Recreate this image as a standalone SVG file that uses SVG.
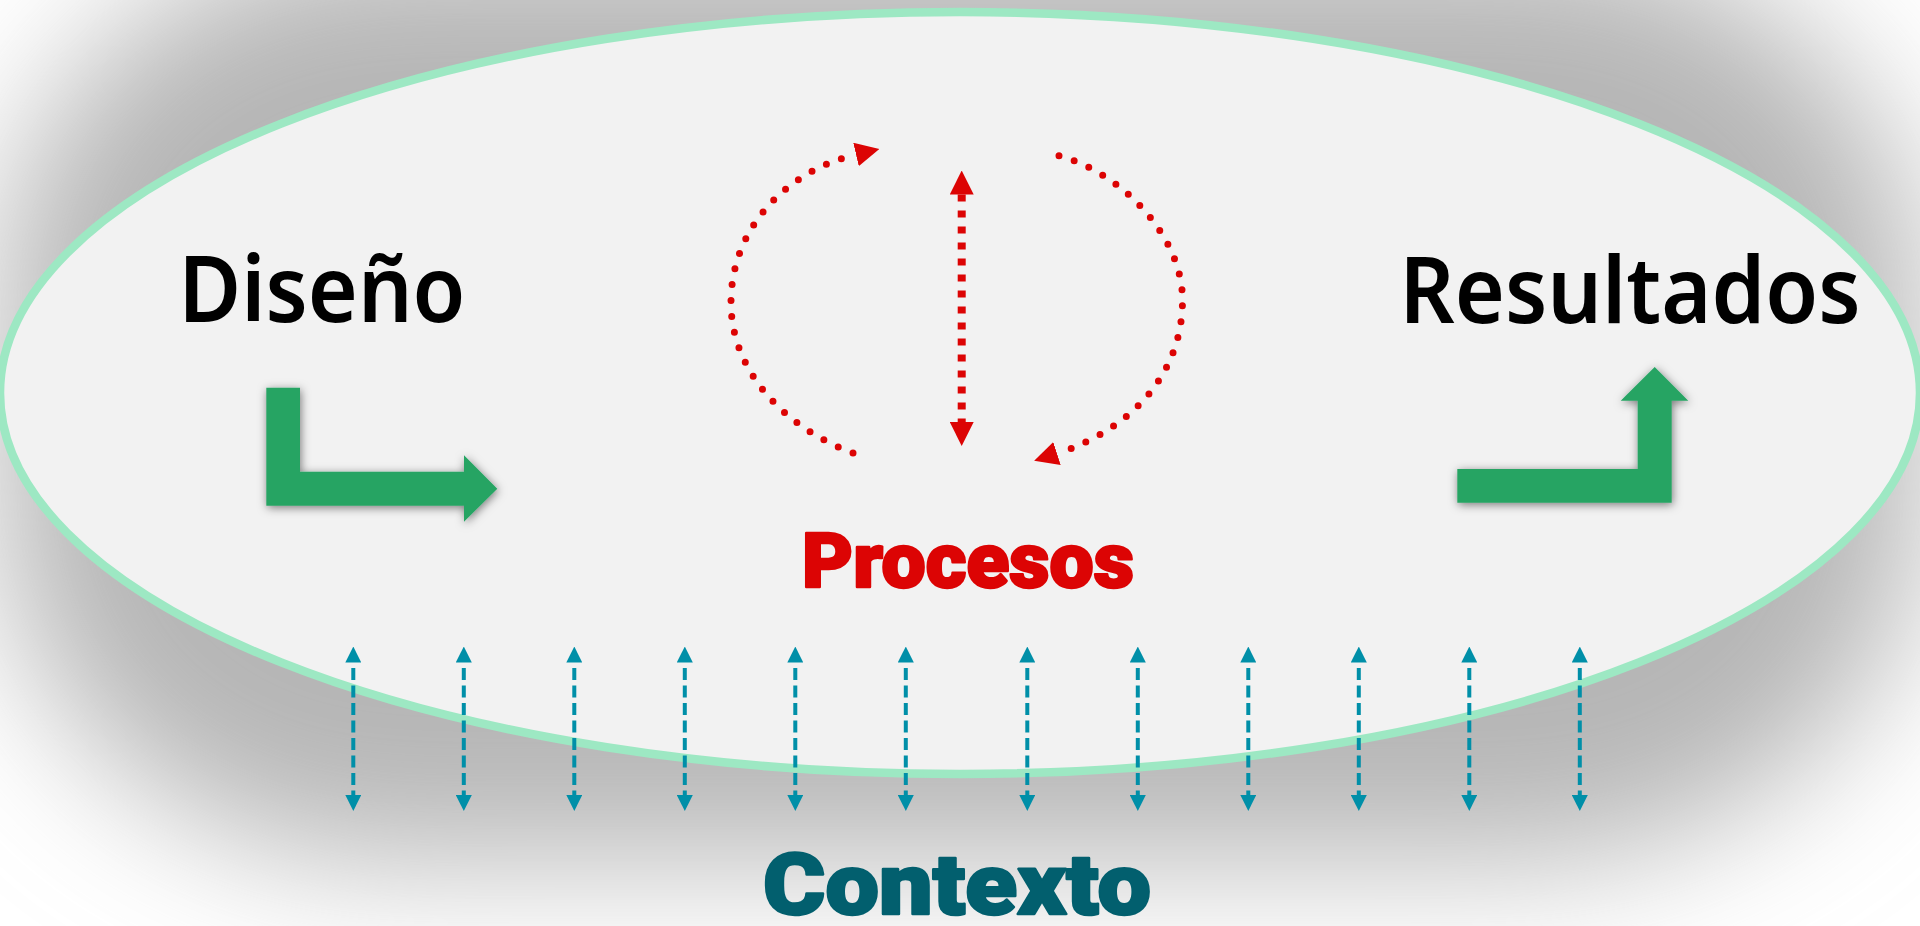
<svg xmlns="http://www.w3.org/2000/svg" width="1920" height="926" viewBox="0 0 1920 926">
  <defs>
    <filter id="bgShadow" x="-20%" y="-30%" width="140%" height="160%">
      <feGaussianBlur stdDeviation="70"/>
    </filter>
    <filter id="arrowShadow" x="-30%" y="-30%" width="160%" height="160%">
      <feDropShadow dx="1" dy="2" stdDeviation="5" flood-color="#000" flood-opacity="0.5"/>
    </filter>
    <marker id="redHead" viewBox="0 0 24 24" markerWidth="24" markerHeight="24" refX="0" refY="12" orient="auto-start-reverse" markerUnits="userSpaceOnUse">
      <path d="M0,0 L24,12 L0,24 Z" fill="#dc0404"/>
    </marker>
    <marker id="blueHead" viewBox="0 0 16 16" markerWidth="16" markerHeight="16" refX="0" refY="8" orient="auto-start-reverse" markerUnits="userSpaceOnUse">
      <path d="M0,0 L16,8 L0,16 Z" fill="#008fa8"/>
    </marker>
    <style>
      .title { font-family: "Noto Sans", "Open Sans", "Liberation Sans", sans-serif; font-weight: 600; font-size: 92px; fill: #000; text-anchor: middle; }
      .heavy { font-family: Roboto, "Liberation Sans", sans-serif; font-weight: 900; text-anchor: middle; stroke-linejoin: round; paint-order: stroke; }
      .green { fill: #27a464; filter: url(#arrowShadow); }
      .dotted { fill: none; stroke: #dc0404; stroke-width: 7; stroke-linecap: round; stroke-dasharray: 0 16; }
      .redDash { fill: none; stroke: #dc0404; stroke-width: 8; stroke-dasharray: 7 9; }
      .blueDash { fill: none; stroke: #008fa8; stroke-width: 4; stroke-dasharray: 12 5.5; stroke-dashoffset: 12; marker-start: url(#blueHead); marker-end: url(#blueHead); }
    </style>
  </defs>

  <rect width="1920" height="926" fill="#ffffff"/>
  <rect x="0" y="-60" width="1920" height="920" rx="400" ry="350" fill="#b6b6b6" filter="url(#bgShadow)"/>

  <g id="context-ellipse">
    <ellipse cx="960" cy="393" rx="960" ry="381" fill="#f2f2f2" stroke="#9de8c3" stroke-width="8.5"/>
  </g>

  <g id="diseno">
    <text class="title" x="322" y="322" textLength="287" lengthAdjust="spacingAndGlyphs">Diseño</text>
    <polygon class="green" points="266.3,387.7 300,387.7 300,471.7 464,471.7 464,455.3 497.3,488.7 464,521.7 464,505.7 266.3,505.7"/>
  </g>

  <g id="resultados">
    <text class="title" x="1630" y="322.5" textLength="461" lengthAdjust="spacingAndGlyphs">Resultados</text>
    <polygon class="green" points="1457.3,469 1637.7,469 1637.7,400.7 1620.7,400.7 1654.7,367 1688.3,400.7 1671.7,400.7 1671.7,502.7 1457.3,502.7"/>
  </g>

  <g id="procesos">
    <text class="heavy" x="968" y="587" font-size="76" fill="#dc0404" stroke="#dc0404" stroke-width="2.5" textLength="332" lengthAdjust="spacingAndGlyphs">Procesos</text>
  </g>

  <g id="contexto">
    <text class="heavy" x="957" y="914" font-size="85" fill="#025f6e" stroke="#025f6e" stroke-width="2.5" textLength="388" lengthAdjust="spacingAndGlyphs">Contexto</text>
  </g>

  <g id="connectors">
    <path class="dotted" d="M853,453 C790,430 731,375 731,302.7 C731,225 790,170 856,154.5" marker-end="url(#redHead)"/>
    <path class="dotted" d="M1059,155.7 C1120,172 1182.5,235 1182.5,300 C1182.5,375 1130,430 1057,453.5" marker-end="url(#redHead)"/>
    <path class="redDash" d="M961.7,194.5 L961.7,422" marker-start="url(#redHead)" marker-end="url(#redHead)"/>

    <path class="blueDash" d="M353.3,662.5 L353.3,795"/>
    <path class="blueDash" d="M463.8,662.5 L463.8,795"/>
    <path class="blueDash" d="M574.3,662.5 L574.3,795"/>
    <path class="blueDash" d="M684.8,662.5 L684.8,795"/>
    <path class="blueDash" d="M795.3,662.5 L795.3,795"/>
    <path class="blueDash" d="M905.8,662.5 L905.8,795"/>
    <path class="blueDash" d="M1027.3,662.5 L1027.3,795"/>
    <path class="blueDash" d="M1137.8,662.5 L1137.8,795"/>
    <path class="blueDash" d="M1248.3,662.5 L1248.3,795"/>
    <path class="blueDash" d="M1358.8,662.5 L1358.8,795"/>
    <path class="blueDash" d="M1469.3,662.5 L1469.3,795"/>
    <path class="blueDash" d="M1579.8,662.5 L1579.8,795"/>
  </g>
</svg>
